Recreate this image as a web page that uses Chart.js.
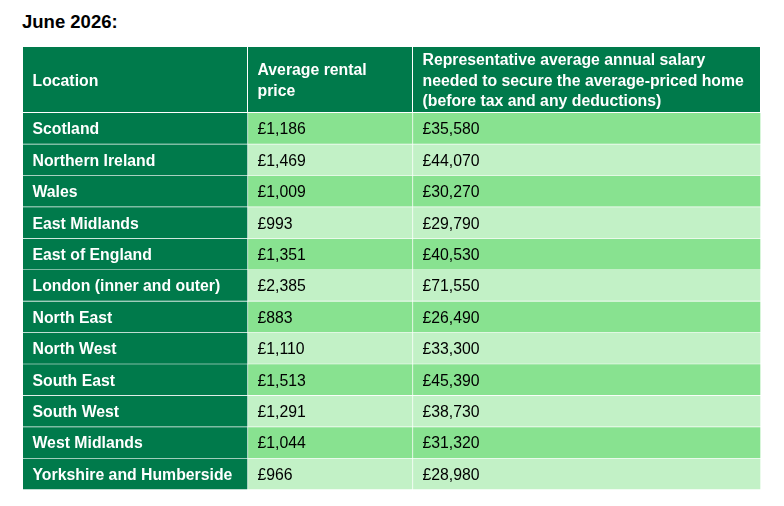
<!DOCTYPE html>
<html>
<head>
<meta charset="utf-8">
<script src="https://cdn.jsdelivr.net/npm/chart.js@4.4.1/dist/chart.umd.min.js"></script>
<style>
  html, body { margin: 0; padding: 0; background: #fff; }
  #wrap { position: relative; width: 784px; height: 506px; }
  #title { position: absolute; left: 22px; top: 11px; line-height: 1; font: bold 18.5px "Liberation Sans", Arial, sans-serif; color: #000; }
  #chart { position: absolute; left: 0; top: 0; }
</style>
</head>
<body>
<div id="wrap">
  <div id="title">June 2026:</div>
  <canvas id="chart" width="784" height="506"></canvas>
</div>
<script>
// ---- data ---------------------------------------------------------------
const locations = [
  'Scotland', 'Northern Ireland', 'Wales', 'East Midlands', 'East of England',
  'London (inner and outer)', 'North East', 'North West', 'South East',
  'South West', 'West Midlands', 'Yorkshire and Humberside'
];
const rentalPrice = [1186, 1469, 1009, 993, 1351, 2385, 883, 1110, 1513, 1291, 1044, 966];
const salaryNeeded = [35580, 44070, 30270, 29790, 40530, 71550, 26490, 33300, 45390, 38730, 31320, 28980];
const headers = [
  ['Location'],
  ['Average rental', 'price'],
  ['Representative average annual salary', 'needed to secure the average-priced home', '(before tax and any deductions)']
];

// ---- layout / style -----------------------------------------------------
const COL_EDGES = [0, 225, 390, 738];   // column boundaries on the x scale
const HEADER_H = 66;
const FONT = '"Liberation Sans", Arial, sans-serif';
const FS = 15.8;
const DARK = '#007A4B';
const ROW_A = '#88E290';
const ROW_B = '#C2F1C6';

const fmt = v => '£' + v.toLocaleString('en-GB');
const columnText = [locations, rentalPrice.map(fmt), salaryNeeded.map(fmt)];

function cellSpans(c) {
  return locations.map(() => [COL_EDGES[c], COL_EDGES[c + 1]]);
}

const datasets = columnText.map((_, c) => ({
  data: cellSpans(c),
  backgroundColor: c === 0 ? DARK : locations.map((_, i) => (i % 2 === 0 ? ROW_A : ROW_B)),
  borderColor: '#fff',
  borderWidth: { top: 0, left: 0, right: 1, bottom: 1 },
  borderSkipped: false,
  grouped: false,
  barPercentage: 1,
  categoryPercentage: 1,
}));

// header row drawn above the chart area, columns taken from the x scale
const headerPlugin = {
  id: 'header',
  beforeDatasetsDraw(chart) {
    const { ctx, chartArea, scales: { x } } = chart;
    const top = chartArea.top - HEADER_H;
    const mid = top + HEADER_H / 2;
    ctx.save();
    headers.forEach((lines, c) => {
      const x0 = x.getPixelForValue(COL_EDGES[c]);
      const x1 = x.getPixelForValue(COL_EDGES[c + 1]);
      ctx.fillStyle = DARK;
      ctx.fillRect(x0, top, x1 - x0 - 1, HEADER_H - 1);
      ctx.fillStyle = '#fff';
      ctx.font = `bold ${FS}px ${FONT}`;
      ctx.textBaseline = 'alphabetic';
      const lh = 20.8;
      lines.forEach((t, i) => {
        ctx.fillText(t, x0 + 9.5, mid + (i - (lines.length - 1) / 2) * lh + 5.6);
      });
    });
    ctx.restore();
  }
};

// cell labels placed on the bar elements
const cellTextPlugin = {
  id: 'cellText',
  afterDatasetsDraw(chart) {
    const { ctx } = chart;
    ctx.save();
    ctx.textBaseline = 'alphabetic';
    chart.data.datasets.forEach((ds, c) => {
      const meta = chart.getDatasetMeta(c);
      ctx.font = c === 0 ? `bold ${FS}px ${FONT}` : `${FS}px ${FONT}`;
      ctx.fillStyle = c === 0 ? '#fff' : '#000';
      meta.data.forEach((el, i) => {
        const { x, y, base } = el.getProps(['x', 'y', 'base'], true);
        ctx.fillText(columnText[c][i], Math.min(x, base) + 9.5, y + 5.6);
      });
    });
    ctx.restore();
  }
};

new Chart(document.getElementById('chart'), {
  type: 'bar',
  data: { labels: locations, datasets },
  options: {
    indexAxis: 'y',
    responsive: false,
    animation: false,
    layout: { padding: { left: 23, right: 23, top: 113, bottom: 16 } },
    scales: {
      x: { type: 'linear', min: 0, max: COL_EDGES[COL_EDGES.length - 1], display: false },
      y: { type: 'category', display: false },
    },
    plugins: { legend: { display: false }, tooltip: { enabled: false } },
  },
  plugins: [headerPlugin, cellTextPlugin],
});
</script>
</body>
</html>
